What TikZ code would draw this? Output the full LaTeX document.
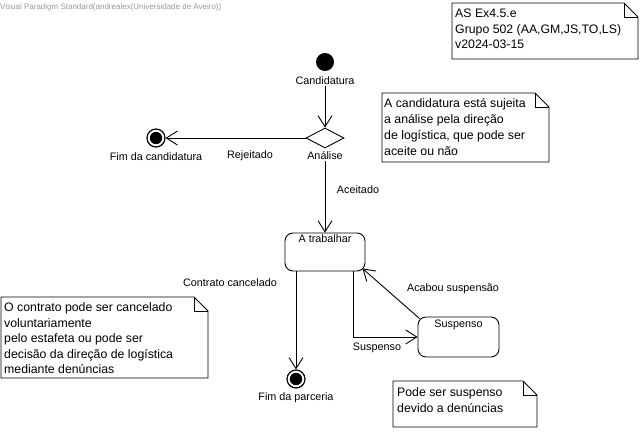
\documentclass[tikz,border=0pt]{standalone}
\usepackage{fontspec}
\setmainfont{Liberation Sans}
\usetikzlibrary{shapes.geometric,arrows.meta}
\tikzstyle{myline}=[line width=0.9pt]
\tikzstyle{myarrow}=[line width=0.9pt,-{Straight Barb[length=11pt,width=14pt,line width=0.9pt]}]
\tikzstyle{mylabel}=[font=\fontsize{10.8}{13}\selectfont,inner sep=1pt]
\tikzstyle{mynotetext}=[font=\fontsize{12.3}{15}\selectfont,inner sep=0pt,anchor=base west]
\tikzstyle{mystate}=[draw,line width=0.9pt,rounded corners=8pt,minimum width=80pt,minimum height=38pt,inner sep=0pt]
\tikzstyle{myinit}=[circle,fill=black,minimum size=18pt,inner sep=0pt]
\tikzstyle{myfinal}=[circle,draw,line width=1.2pt,minimum size=18pt,inner sep=0pt]
\tikzstyle{mychoice}=[diamond,draw,line width=0.9pt,minimum width=38pt,minimum height=20pt,inner sep=0pt]
\newcommand{\mynote}[4]{%
  \draw[myline] (#1,#2) -- ({#3-14},#2) -- (#3,{#2+14}) -- (#3,#4) -- (#1,#4) -- cycle;
  \draw[myline] ({#3-14},#2) -- ({#3-14},{#2+14}) -- (#3,{#2+14});}

\begin{document}
\begin{tikzpicture}[x=1pt,y=-1pt]
		\fill[white] (0,0) rectangle (642,432);
		\useasboundingbox (0,0) rectangle (642,432);
		\node[anchor=west,inner sep=0pt,text=gray!80,font=\fontsize{8}{10}\selectfont] (header) at (0,7) {Visual Paradigm Standard(andrealex(Universidade de Aveiro))};

		% states
		\node[myinit] (start) at (325,62) {};
		\node[mylabel] (startlabel) at (325,81) {Candidatura};
		\node[mychoice] (choice) at (325,138) {};
		\node[mylabel] (choicelabel) at (325,156) {Análise};
		\node[myfinal] (endcand) at (156,138) {};
		\fill (endcand) circle (6.2pt);
		\node[mylabel] (endcandlabel) at (156,157) {Fim da candidatura};
		\node[mystate] (trab) at (325,252) {};
		\node[mylabel] (trablabel) at (325,239) {A trabalhar};
		\node[mystate,minimum width=81pt,minimum height=40pt] (susp) at (458.5,337) {};
		\node[mylabel] (susplabel) at (458.5,325) {Suspenso};
		\node[myfinal] (endparc) at (296,379) {};
		\fill (endparc) circle (6.2pt);
		\node[mylabel] (endparclabel) at (296,398) {Fim da parceria};

		% transitions
		\draw[myarrow] (startlabel.south) -- (choice.north);
		\draw[myarrow] (choice.west) -- (endcand.east);
		\node[mylabel] (rejlabel) at (250,156) {Rejeitado};
		\draw[myarrow] (choicelabel.south) -- (trab.north);
		\node[mylabel] (acclabel) at (358,190) {Aceitado};
		\draw[myarrow] (trab.south -| endparc) -- (endparc.north);
		\node[mylabel] (cancellabel) at (230,283) {Contrato cancelado};
		\draw[myarrow] ([xshift=28pt]trab.south) |- (susp.west);
		\node[mylabel] (susplabeltr) at (377,348) {Suspenso};
		\draw[myarrow] ([shift={(2pt,-2pt)}]susp.north west) -- ([shift={(-3pt,3pt)}]trab.south east);
		\node[mylabel] (acaboulabel) at (453,289) {Acabou suspensão};

		% notes
		\mynote{452}{3}{638}{59}
		\foreach \t [count=\i] in {AS Ex4.5.e,{Grupo 502 (AA,GM,JS,TO,LS)},v2024-03-15} {\node[mynotetext] (noteA\i) at (455,{13+15.6*(\i-1)+4.4}) {\t};}
		\mynote{382}{93}{549}{162}
		\foreach \t [count=\i] in {A candidatura está sujeita,a análise pela direção,{de logística, que pode ser},aceite ou não} {\node[mynotetext] (noteB\i) at (384,{103+16*(\i-1)+4.4}) {\t};}
		\mynote{1}{297}{208}{378}
		\foreach \t [count=\i] in {O contrato pode ser cancelado,voluntariamente,pelo estafeta ou pode ser,decisão da direção de logística,mediante denúncias} {\node[mynotetext] (noteC\i) at (4,{307+15.6*(\i-1)+4.4}) {\t};}
		\mynote{393}{381}{537}{427}
		\foreach \t [count=\i] in {Pode ser suspenso,devido a denúncias} {\node[mynotetext] (noteD\i) at (397,{392+15.6*(\i-1)+4.4}) {\t};}
	\end{tikzpicture}
\end{document}
